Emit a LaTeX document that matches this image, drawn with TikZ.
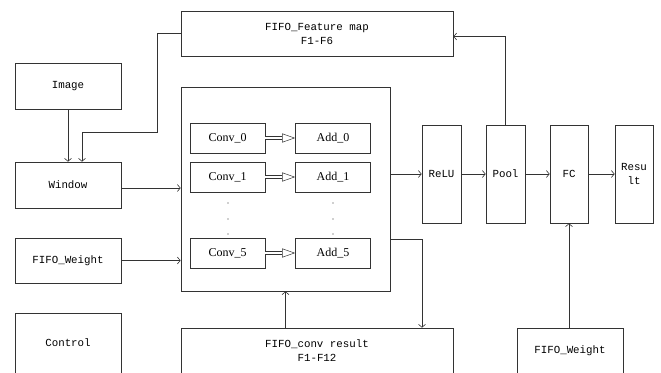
\documentclass[tikz,border=0pt]{standalone}
\usepackage{fontspec}
\setmainfont{Liberation Serif}
\setmonofont{Liberation Mono}
\usepackage{tikz}
\usetikzlibrary{arrows.meta,positioning}

\begin{document}
\begin{tikzpicture}[
    x=1pt, y=-1pt,
    every node/.style={align=center},
    box/.style={
        rectangle,
        draw=black!80,
        line width=0.6pt,
        font=\ttfamily\fontsize{10.8}{14}\selectfont,
        inner sep=0pt
    },
    unit/.style={
        box,
        font=\rmfamily\fontsize{12}{14}\selectfont,
        minimum width=75pt,
        minimum height=30pt
    },
    arr/.style={draw=black!80, line width=0.6pt, -{Straight Barb[length=3pt,width=7pt]}},
    dbl/.style={draw=black!80, line width=0.5pt, double, double distance=2.5pt,
        -{Triangle[open,length=13pt,width=9pt]}}
]
\useasboundingbox (0,0) rectangle (661,372);
\clip (0,0) rectangle (661,372);

% left column
\node[box, minimum width=106pt, minimum height=46pt] (image) at (68,86) {Image};
\node[box, minimum width=106pt, minimum height=46pt] (window) at (68,185) {Window};
\node[box, minimum width=106pt, minimum height=45pt] (weightL) at (68,260.5) {FIFO\_Weight};
\node[box, minimum width=106pt, minimum height=60pt] (control) at (68,343) {Control};

% fifo boxes
\node[box, minimum width=272pt, minimum height=45pt] (fmap) at (317,33.5) {FIFO\_Feature map\\F1-F6};
\node[box, minimum width=272pt, minimum height=46pt] (convres) at (317,351) {FIFO\_conv result\\F1-F12};
\node[box, minimum width=106pt, minimum height=46pt] (weightR) at (570,351) {FIFO\_Weight};

% conv block
\node[box, minimum width=209pt, minimum height=204pt] (block) at (285.5,189) {};
\node[unit] (conv0) at (227.5,138) {Conv\_0};
\node[unit] (conv1) at (227.5,177) {Conv\_1};
\node[unit] (conv5) at (227.5,253) {Conv\_5};
\node[unit] (add0) at (333,138) {Add\_0};
\node[unit] (add1) at (333,177) {Add\_1};
\node[unit] (add5) at (333,253) {Add\_5};
\foreach \y in {203,219,234} {
    \fill[black!80] (228,\y) circle (0.7pt);
    \fill[black!80] (333,\y) circle (0.7pt);
}

% pipeline
\node[box, minimum width=39pt, minimum height=98pt] (relu) at (441.5,174) {ReLU};
\node[box, minimum width=39pt, minimum height=98pt] (pool) at (505.5,174) {Pool};
\node[box, minimum width=38pt, minimum height=98pt] (fc) at (569,174) {FC};
\node[box, minimum width=38pt, minimum height=98pt] (result) at (634,174) {Resu\\lt};

\draw[arr] (image) -- (window);
\draw[arr] (fmap.west) -- ++(-23,0) -- ++(0,99) -| ([xshift=14pt]window.north);
\draw[arr] ([yshift=-3pt]window.east) -- ([yshift=-3pt]block.west |- window.east);
\draw[arr] (weightL.east) -- (block.west |- weightL.east);
\draw[dbl] (conv0) -- (add0);
\draw[dbl] (conv1) -- (add1);
\draw[dbl] (conv5) -- (add5);
\draw[arr] ([yshift=-50pt]block.east) -| ([xshift=105pt]convres.north);
\draw[arr] (convres.north -| block.south) -- (block.south);
\draw[arr] (block.east |- relu.west) -- (relu.west);
\draw[arr] (relu) -- (pool);
\draw[arr] (pool) -- (fc);
\draw[arr] (fc) -- (result);
\draw[arr] (pool.north) |- ([yshift=-3pt]fmap.east);
\draw[arr] (weightR.north -| fc.south) -- (fc.south);
\end{tikzpicture}
\end{document}
